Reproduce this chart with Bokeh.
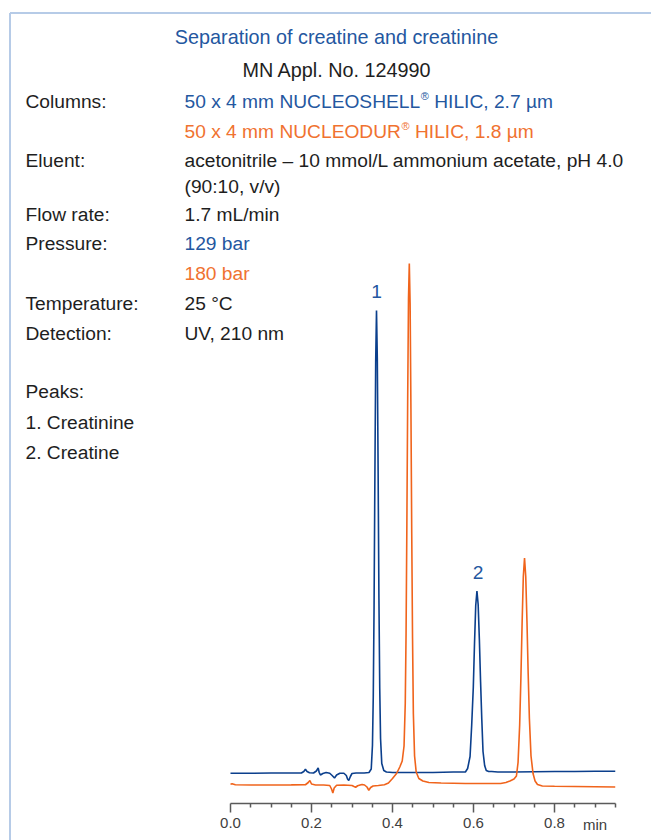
from bokeh.plotting import figure
from bokeh.models import Range1d, LinearAxis, FixedTicker, Label, PrintfTickFormatter
from bokeh.embed import file_html
from bokeh.resources import INLINE
from bokeh.core.properties import value

# ---------------- data ----------------
# time in min, signal in arbitrary detector units
blue_t = [0.000, 0.050, 0.100, 0.150, 0.175, 0.181, 0.185, 0.189, 0.195, 0.205, 0.212, 0.2165,
          0.219, 0.222, 0.228, 0.236, 0.245, 0.251, 0.2568, 0.262, 0.270, 0.280, 0.286, 0.289,
          0.292, 0.296, 0.300, 0.310, 0.330, 0.342, 0.3475, 0.3505, 0.3525, 0.3545, 0.3565,
          0.3585, 0.3605, 0.3625, 0.3645, 0.3665, 0.3685, 0.3705, 0.3735, 0.3785, 0.385, 0.400,
          0.450, 0.500, 0.550, 0.580, 0.5855, 0.5915, 0.5955, 0.5995, 0.6025, 0.6055, 0.6085,
          0.6115, 0.6145, 0.6175, 0.6205, 0.6235, 0.6275, 0.6315, 0.6375, 0.645, 0.660, 0.700,
          0.750, 0.800, 0.850, 0.900, 0.950]
blue_y = [6.05, 6.05, 6.10, 6.10, 6.10, 6.40, 6.85, 6.40, 6.15, 6.10, 6.50, 7.10,
          6.20, 5.70, 6.00, 6.20, 6.05, 5.60, 5.10, 5.70, 6.05, 6.05, 5.60, 4.90,
          4.60, 5.40, 6.00, 6.10, 6.10, 6.20, 6.90, 11.6, 21.3, 39.4, 65.3,
          88.4, 98.6, 89.0, 66.5, 41.0, 23.0, 13.0, 8.0, 6.6, 6.3, 6.2,
          6.2, 6.2, 6.3, 6.3, 7.0, 9.4, 15.6, 23.2, 32.0, 39.6, 42.5,
          39.8, 32.8, 24.3, 16.8, 10.4, 7.6, 6.6, 6.4, 6.4, 6.3, 6.3,
          6.35, 6.40, 6.40, 6.45, 6.45]

orange_t = [0.000, 0.004, 0.012, 0.050, 0.100, 0.150, 0.185, 0.192, 0.196, 0.200, 0.210, 0.230,
            0.245, 0.2495, 0.2527, 0.256, 0.262, 0.280, 0.300, 0.305, 0.309, 0.314, 0.320,
            0.325, 0.331, 0.337, 0.3415, 0.346, 0.352, 0.365, 0.380, 0.390, 0.400, 0.410,
            0.418, 0.424, 0.4285, 0.4315, 0.4335, 0.4355, 0.4375, 0.4395, 0.4415, 0.4435,
            0.4455, 0.4475, 0.4495, 0.4515, 0.4545, 0.4585, 0.465, 0.475, 0.490, 0.520,
            0.580, 0.640, 0.667, 0.680, 0.690, 0.700, 0.706, 0.710, 0.714, 0.717, 0.720,
            0.723, 0.726, 0.729, 0.732, 0.735, 0.738, 0.742, 0.747, 0.752, 0.758, 0.770,
            0.800, 0.850, 0.900, 0.950]
orange_y = [3.85, 3.95, 3.75, 3.70, 3.70, 3.72, 3.75, 4.20, 4.60, 3.90, 3.70, 3.70,
            3.60, 2.90, 2.10, 3.10, 3.65, 3.70, 3.60, 3.40, 3.25, 3.55, 3.70,
            3.80, 3.70, 3.30, 2.65, 3.20, 3.50, 3.60, 3.75, 4.10, 5.00, 6.00,
            7.30, 8.50, 11.5, 20.0, 34.0, 56.0, 81.0, 101.0, 108.0, 100.0,
            79.0, 54.0, 33.0, 18.0, 9.5, 6.3, 5.0, 4.5, 4.2, 4.1,
            4.0, 4.0, 4.0, 4.2, 4.5, 4.9, 5.5, 8.2, 15.7, 25.0, 36.0,
            45.4, 49.1, 45.4, 36.5, 26.0, 17.0, 9.5, 6.0, 4.5, 3.8, 3.5,
            3.45, 3.40, 3.35, 3.30]

peak_names = ["1", "2"]
peak_t = [0.3605, 0.6115]
peak_h = [98.6, 42.5]

major_ticks = [0.0, 0.2, 0.4, 0.6, 0.8]
minor_ticks = [0.05, 0.1, 0.15, 0.25, 0.3, 0.35, 0.45, 0.5, 0.55, 0.65, 0.7, 0.75, 0.85, 0.9, 0.95]
axis_unit = "min"

title_text = "Separation of creatine and creatinine"
appl_text = "MN Appl. No. 124990"
param_names = ["Columns:", "Eluent:", "Flow rate:", "Pressure:", "Temperature:", "Detection:",
               "Peaks:", "1. Creatinine", "2. Creatine"]
column_1 = ["50 x 4 mm NUCLEOSHELL", "\u00ae", "HILIC, 2.7 \u00b5m"]
column_2 = ["50 x 4 mm NUCLEODUR", "\u00ae", "HILIC, 1.8 \u00b5m"]

# ---------------- colours / styles ----------------
BLUE_LINE = "#0b3f8c"
ORANGE_LINE = "#f0641c"
BLUE_TEXT = "#24579f"
ORANGE_TEXT = "#f07230"
DARK = "#1e1e1e"
FRAME = "#b6cbe7"
FONT = "Liberation Sans"
FS_HEAD = 19.8
FS = 19.2
FS_SUP = 11.0

W, H = 651, 840
PX_PER_MIN = 405.0
PX_PER_UNIT = 5.0
X0_PX, Y0_PX = 230.0, 803.0   # pixel of t=0 and signal=0


def X(px):
    return (px - X0_PX) / PX_PER_MIN


def Y(py):
    return (Y0_PX - py) / PX_PER_UNIT


p = figure(width=W, height=H, output_backend="svg", toolbar_location=None,
           x_axis_type=None, y_axis_type=None,
           x_range=Range1d(X(0), X(W)), y_range=Range1d(Y(H), Y(0)),
           min_border=0, min_border_left=0, min_border_right=0,
           min_border_top=0, min_border_bottom=0)
p.outline_line_color = None
p.background_fill_color = "white"
p.border_fill_color = "white"

# frame lines (left and top)
p.line([X(9.5), X(9.5)], [Y(12.5), Y(H)], line_color=FRAME, line_width=2)
p.line([X(9.5), X(W)], [Y(12.5), Y(12.5)], line_color=FRAME, line_width=2)

# traces
p.line(blue_t, blue_y, line_color=BLUE_LINE, line_width=1.6)
p.line(orange_t, orange_y, line_color=ORANGE_LINE, line_width=1.6)

# peak labels
p.text(x=peak_t, y=peak_h, text=peak_names, text_color=BLUE_TEXT,
       text_font=value(FONT), text_font_size=f"{FS}px", text_align="center",
       text_baseline="middle", y_offset=-19)

# x axis
ax = LinearAxis(fixed_location=0, bounds=(0, 0.95))
ax.ticker = FixedTicker(ticks=major_ticks, minor_ticks=minor_ticks)
ax.formatter = PrintfTickFormatter(format="%.1f")
ax.axis_line_color = "#5a5a5a"
ax.axis_line_width = 1.5
ax.major_tick_line_color = "#5a5a5a"
ax.major_tick_line_width = 1.5
ax.minor_tick_line_color = "#5a5a5a"
ax.minor_tick_line_width = 1.5
ax.major_tick_in = 0
ax.major_tick_out = 9
ax.minor_tick_in = 0
ax.minor_tick_out = 4
ax.major_label_standoff = 5
ax.major_label_text_font = FONT
ax.major_label_text_font_size = "15px"
ax.major_label_text_color = "#404040"
p.add_layout(ax, "below")

p.add_layout(Label(x=0.9, y=0, y_offset=-21, text=axis_unit, text_font=FONT,
                   text_font_size="15px", text_color="#404040", text_align="center",
                   text_baseline="middle"))


def txt(s, px, py, color=DARK, align="left", size=FS):
    p.add_layout(Label(x=X(px), y=Y(py), text=s, text_font=FONT, text_font_size=f"{size}px",
                       text_color=color, text_align=align, text_baseline="middle"))


# header
txt(title_text, 336, 36, BLUE_TEXT, align="center", size=FS_HEAD)
txt(appl_text, 336.5, 69, DARK, align="center", size=FS_HEAD)

left_y = [101, 160, 214, 243, 303, 333, 391, 422, 452]
for name, py in zip(param_names, left_y):
    txt(name, 25, py)

VX = 184
# Helvetica/Arial advance widths (em) of the text in front of the registered sign
EM_BEFORE_REG = {"50 x 4 mm NUCLEOSHELL": 12.281, "50 x 4 mm NUCLEODUR": 11.279}
REG_EM = 0.737
SPACE_EM = 0.278


def column_line(parts, py, color):
    head, reg, tail = parts
    x_reg = VX + EM_BEFORE_REG[head] * FS
    txt(head, VX, py, color)
    txt(reg, x_reg + 0.5, py - 5.5, color, size=FS_SUP)
    txt(tail, x_reg + REG_EM * FS_SUP + SPACE_EM * FS + 0.5, py, color)


column_line(column_1, 101, BLUE_TEXT)
column_line(column_2, 131, ORANGE_TEXT)
txt("acetonitrile \u2013 10 mmol/L ammonium acetate, pH 4.0", VX, 160)
txt("(90:10, v/v)", VX, 186)
txt("1.7 mL/min", VX, 214)
txt("129 bar", VX, 243, BLUE_TEXT)
txt("180 bar", VX, 273, ORANGE_TEXT)
txt("25 \u00b0C", VX, 303)
txt("UV, 210 nm", VX, 333)

open("out.html", "w").write(file_html(p, INLINE))
